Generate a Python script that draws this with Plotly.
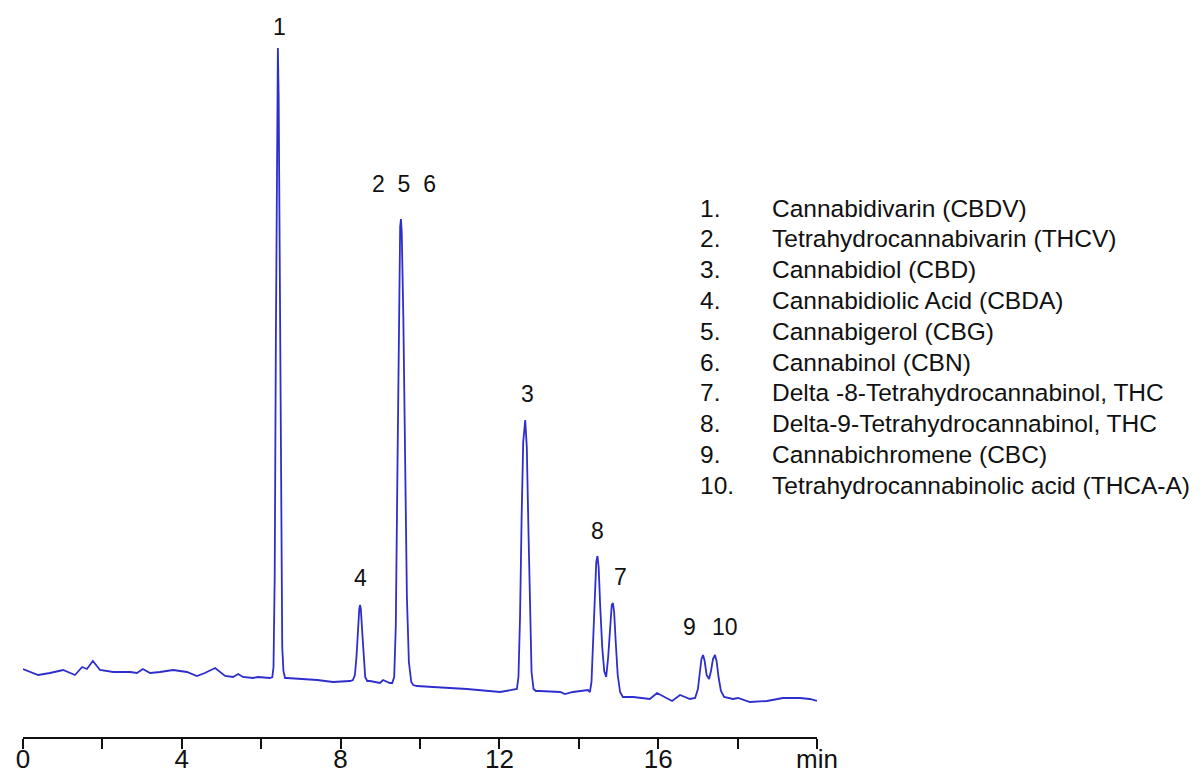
import plotly.graph_objects as go

# Chromatogram trace: retention time (min) and detector signal (arbitrary units)
time_min = [
    0.00, 0.38, 0.68, 1.01, 1.31, 1.49, 1.61, 1.76, 1.94, 2.27, 2.70, 2.87, 3.02, 3.20, 3.45,
    3.78, 4.13, 4.38, 4.58, 4.84, 5.09, 5.29, 5.42, 5.54, 5.79, 5.92, 6.22,
    6.28, 6.31, 6.34, 6.37, 6.40, 6.42, 6.44, 6.47, 6.50, 6.53, 6.56, 6.60,
    6.65, 6.98, 7.41, 7.81, 8.24,
    8.31, 8.36, 8.40, 8.44, 8.47, 8.49, 8.51, 8.54, 8.58, 8.62, 8.67,
    8.74, 8.99, 9.07, 9.24,
    9.30, 9.35, 9.39, 9.43, 9.47, 9.50, 9.52, 9.54, 9.58, 9.62, 9.67, 9.72, 9.78, 9.83,
    9.92, 10.33, 11.18, 12.02, 12.39,
    12.44, 12.48, 12.52, 12.56, 12.60, 12.65, 12.69, 12.73, 12.77, 12.81, 12.86, 12.92,
    13.02, 13.53, 13.65, 13.85, 14.23,
    14.28, 14.32, 14.36, 14.40, 14.44, 14.47, 14.50, 14.54, 14.59, 14.64, 14.69,
    14.74, 14.79, 14.83, 14.86, 14.89, 14.93, 14.98, 15.04, 15.11,
    15.37, 15.79, 15.97, 16.17, 16.35, 16.55, 16.80, 16.93,
    17.00, 17.05, 17.09, 17.13, 17.17, 17.22, 17.28, 17.33, 17.38, 17.43, 17.47, 17.52, 17.58, 17.66,
    17.88, 18.01, 18.31, 18.74, 19.14, 19.57, 19.82, 20.00,
]
signal = [
    68, 62, 64, 67, 62, 70, 68, 76, 67, 65, 65, 64, 68, 64, 65,
    67, 65, 61, 64, 69, 61, 60, 63, 60, 59, 60, 59,
    60, 70, 160, 400, 640, 689, 640, 420, 190, 90, 66, 59,
    59, 58, 57, 55, 56,
    57, 62, 80, 110, 128, 132, 128, 108, 78, 60, 56,
    56, 54, 57, 54,
    54, 60, 110, 260, 430, 510, 518, 505, 420, 280, 140, 75, 55, 52,
    51, 50, 48, 45, 47,
    48, 60, 120, 220, 295, 317, 290, 210, 120, 65, 48, 46,
    46, 45, 43, 45, 47,
    45, 55, 90, 140, 175, 181, 170, 130, 90, 66, 60,
    80, 115, 132, 134, 125, 95, 62, 45, 40,
    40, 38, 44, 40, 36, 42, 38, 39,
    48, 65, 78, 82, 76, 62, 58, 66, 78, 82, 76, 60, 46, 40,
    38, 39, 35, 36, 39, 39, 38, 36,
]

# Peak labels (text, retention time, label height)
peak_labels = ["1", "2\u00a0\u00a05\u00a0\u00a06", "3", "4", "8", "7", "9", "10"]
peak_label_time = [6.45, 9.60, 12.70, 8.51, 14.46, 15.04, 16.80, 17.68]
peak_label_signal = [710, 553, 343, 159, 206, 160, 110, 110]

# Compound list
compound_nums = ["1.", "2.", "3.", "4.", "5.", "6.", "7.", "8.", "9.", "10."]
compound_names = [
    "Cannabidivarin (CBDV)",
    "Tetrahydrocannabivarin (THCV)",
    "Cannabidiol (CBD)",
    "Cannabidiolic Acid (CBDA)",
    "Cannabigerol (CBG)",
    "Cannabinol (CBN)",
    "Delta -8-Tetrahydrocannabinol, THC",
    "Delta-9-Tetrahydrocannabinol, THC",
    "Cannabichromene (CBC)",
    "Tetrahydrocannabinolic acid (THCA-A)",
]

# X-axis ticks
tick_vals = [0, 2, 4, 6, 8, 10, 12, 14, 16, 18, 20]
tick_text = ["0", "", "4", "", "8", "", "12", "", "16", "", "min"]

# The page places the figure 8 px in from the top-left corner of the window.
OFF = 8
W, H = 1195, 768
ML, MR, MT, MB = 15, 386, 0, 39
plot_w = W - ML - MR
plot_h = H - MT - MB

FONT = "Liberation Sans, Arial, sans-serif"

fig = go.Figure()
fig.add_trace(go.Scatter(
    x=time_min, y=signal, mode="lines",
    line=dict(color="#2e2ecc", width=1.8),
    hoverinfo="skip", showlegend=False,
))

annotations = []
for txt, tx, sy in zip(peak_labels, peak_label_time, peak_label_signal):
    annotations.append(dict(
        x=tx, y=sy, xref="x", yref="y", text=txt, showarrow=False,
        font=dict(family=FONT, size=23, color="#111111"),
        xanchor="center", yanchor="middle",
    ))

row0_px, row_step_px = 208, 30.8
num_px, name_px = 698, 770
for i, (n, name) in enumerate(zip(compound_nums, compound_names)):
    py = row0_px + row_step_px * i
    yp = (MT + plot_h - (py - OFF)) / plot_h
    annotations.append(dict(
        x=(num_px - OFF - ML) / plot_w, y=yp, xref="paper", yref="paper", text=n,
        showarrow=False, xanchor="left", yanchor="middle",
        font=dict(family=FONT, size=24.5, color="#111111"),
    ))
    annotations.append(dict(
        x=(name_px - OFF - ML) / plot_w, y=yp, xref="paper", yref="paper", text=name,
        showarrow=False, xanchor="left", yanchor="middle",
        font=dict(family=FONT, size=24.5, color="#111111"),
    ))

fig.update_layout(
    width=W, height=H,
    margin=dict(l=ML, r=MR, t=MT, b=MB, pad=0, autoexpand=False),
    paper_bgcolor="white", plot_bgcolor="white",
    showlegend=False,
    annotations=annotations,
    xaxis=dict(
        range=[0, 20], showgrid=False, zeroline=False, automargin=False,
        showline=True, linecolor="#111111", linewidth=2,
        ticks="outside", ticklen=10, tickwidth=2, tickcolor="#111111",
        tickmode="array", tickvals=tick_vals, ticktext=tick_text,
        tickfont=dict(family=FONT, size=26, color="#111111"),
        ticklabelstandoff=-12,
    ),
    yaxis=dict(range=[0, plot_h], visible=False, showgrid=False, zeroline=False,
               automargin=False),
)

fig.write_html("out.html", config={"displayModeBar": False})
